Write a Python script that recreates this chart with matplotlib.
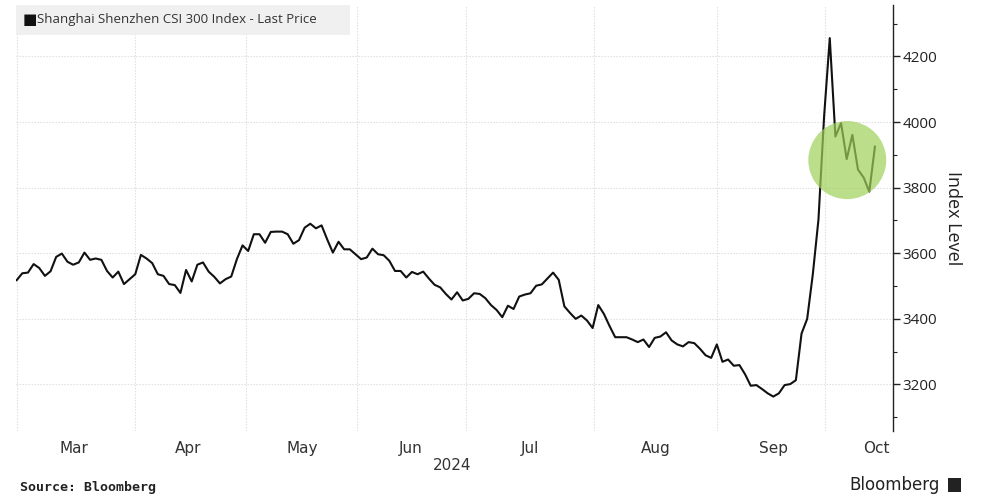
import numpy as np
import matplotlib
matplotlib.use('Agg')
import matplotlib.pyplot as plt
from matplotlib.patches import Ellipse, Rectangle

# CSI 300 daily closes, one value per trading day (late Feb - 18 Oct 2024)
prices = [
    3518, 3539, 3541, 3567, 3555, 3531, 3545, 3589, 3599, 3574,
    3565, 3572, 3602, 3580, 3584, 3580, 3546, 3526, 3544, 3506,
    3521, 3536, 3595, 3584, 3570, 3536, 3531, 3506, 3503, 3479,
    3549, 3514, 3565, 3572, 3544, 3528, 3508, 3521, 3529, 3582,
    3624, 3607, 3658, 3658, 3632, 3665, 3666, 3666, 3658, 3629,
    3640, 3678, 3690, 3676, 3685, 3642, 3602, 3635, 3612, 3612,
    3597, 3582, 3587, 3614, 3597, 3594, 3577, 3546, 3546, 3526,
    3543, 3536, 3544, 3523, 3504, 3496, 3476, 3459, 3481, 3456,
    3461, 3478, 3476, 3463, 3442, 3427, 3405, 3440, 3430, 3468,
    3474, 3478, 3501, 3505, 3523, 3541, 3519, 3438, 3418, 3400,
    3410, 3395, 3372, 3442, 3415, 3378, 3344, 3344, 3344, 3337,
    3329, 3337, 3314, 3342, 3346, 3359, 3334, 3322, 3316, 3329,
    3326, 3309, 3289, 3281, 3322, 3269, 3276, 3257, 3259, 3231,
    3196, 3198, 3186, 3173, 3163, 3173, 3198, 3201, 3213, 3355,
    3400, 3536, 3703, 4018, 4256, 3956, 3997, 3887, 3961, 3855,
    3831, 3788, 3925,
]

# month boundaries / label positions in trading-day index
month_names = ['Mar', 'Apr', 'May', 'Jun', 'Jul', 'Aug', 'Sep', 'Oct']
month_starts = [0.0, 20.95, 40.6, 60.3, 79.6, 102.3, 124.0, 143.2]
month_centers = [10.15, 30.3, 50.5, 69.8, 90.9, 113.1, 134.0, 152.2]
yticks = [3200, 3400, 3600, 3800, 4000, 4200]

x = np.arange(len(prices))

fig = plt.figure(figsize=(9.81, 4.95), dpi=100)
ax = fig.add_axes([16/981, 1 - 431/495, (893 - 16)/981, (431 - 5)/495])

ax.set_xlim(-0.12, 155.2)
ax.set_ylim(3058, 4357)

grid_col = '#dcdcdc'
for h in yticks:
    ax.axhline(h, color=grid_col, lw=0.8, ls=(0, (1.2, 1.5)), zorder=0)
for v in month_starts:
    ax.axvline(v, color=grid_col, lw=0.8, ls=(0, (1.2, 1.5)), zorder=0)

ax.plot(x, prices, color='#111111', lw=1.5, zorder=2)

# highlighted circle round the October pull-back
ax.add_patch(Ellipse((147.1, 3884), 13.8, 238, facecolor='#9fd05a', edgecolor='none',
                     alpha=0.7, zorder=3))

for s in ['top', 'left', 'bottom']:
    ax.spines[s].set_visible(False)
ax.spines['right'].set_color('#222222')
ax.spines['right'].set_linewidth(1.0)

ax.yaxis.tick_right()
ax.yaxis.set_label_position('right')
ax.set_yticks(yticks)
ax.set_yticklabels([str(t) for t in yticks], fontsize=11, color='#222222',
                   family='Open Sans')
ax.set_yticks(np.arange(3100, 4400, 100), minor=True)
ax.tick_params(axis='y', which='major', length=5, width=1, color='#222222', pad=2)
ax.tick_params(axis='y', which='minor', length=3, width=0.8, color='#222222')
ax.set_ylabel('Index Level', rotation=-90, fontsize=13, color='#222222',
              labelpad=18, family='Open Sans')

ax.set_xticks(month_centers)
ax.set_xticklabels(month_names, fontsize=11, color='#333333',
                   family='Liberation Sans Narrow')
ax.tick_params(axis='x', length=0, pad=7)

# legend box
ax.add_patch(Rectangle((0, 1 - 30/426), 334/877, 30/426, transform=ax.transAxes,
                       facecolor='#f0f0f0', edgecolor='none', zorder=4))
ax.text(7/877, 1 - 15/426, '\u25A0', transform=ax.transAxes, fontsize=11,
        color='#111111', va='center', ha='left', zorder=5, family='DejaVu Sans')
ax.text(21/877, 1 - 15/426, 'Shanghai Shenzhen CSI 300 Index - Last Price',
        transform=ax.transAxes, fontsize=9.5, color='#333333', va='center',
        ha='left', zorder=5, family='Open Sans')

fig.text(452/981, 1 - 466/495, '2024', fontsize=11, color='#333333',
         ha='center', va='center', family='Liberation Sans Narrow')
fig.text(20/981, 1 - 487/495, 'Source: Bloomberg', fontsize=9.5, fontweight='bold',
         color='#222222', ha='left', va='center', family='DejaVu Sans Mono')
fig.text(940/981, 1 - 485/495, 'Bloomberg', fontsize=12, color='#222222',
         ha='right', va='center', family='Liberation Sans Narrow')
fig.patches.append(Rectangle((948/981, 1 - 492/495), 13/981, 14/495,
                             transform=fig.transFigure, facecolor='#222222',
                             edgecolor='none'))

fig.savefig('out.png', dpi=100)
